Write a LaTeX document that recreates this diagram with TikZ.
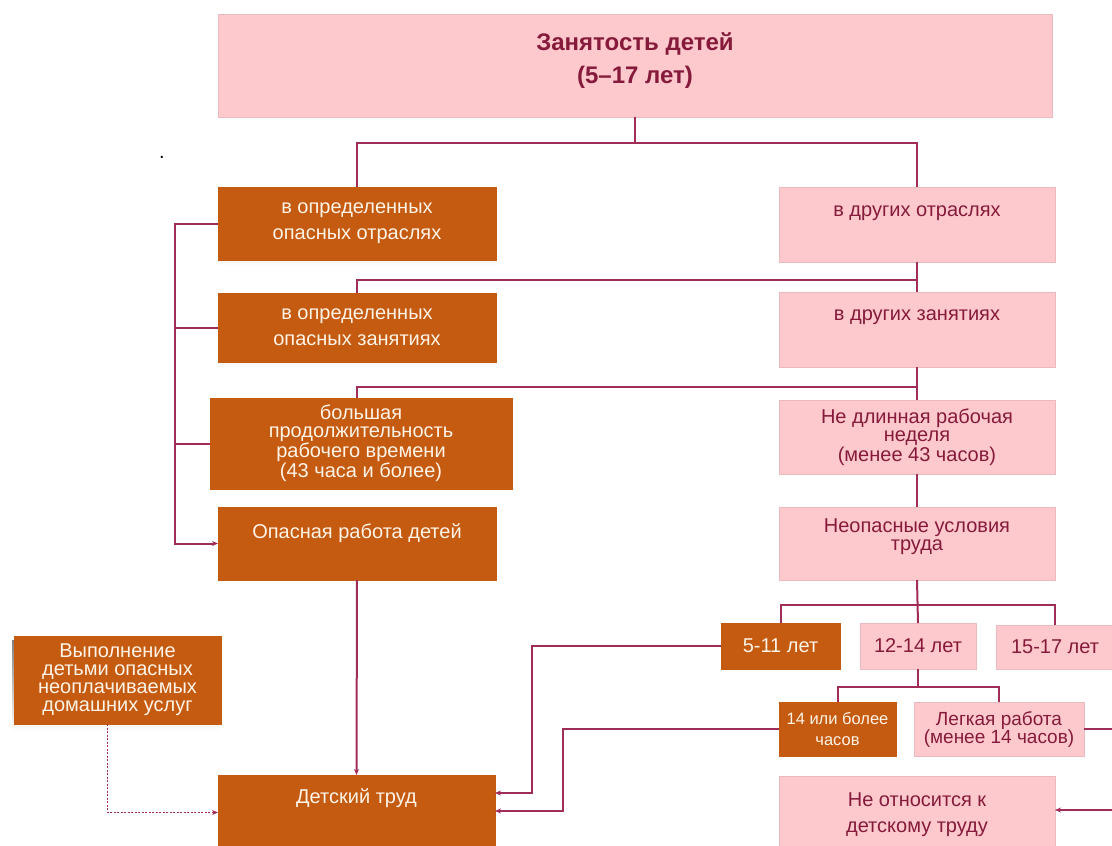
\documentclass[tikz,border=0pt]{standalone}
\usepackage{fontspec}
\setmainfont{Liberation Sans}
\usetikzlibrary{arrows.meta}

\definecolor{orng}{RGB}{197,90,17}
\definecolor{blush}{RGB}{253,201,205}
\definecolor{blushedge}{RGB}{234,186,191}
\definecolor{wine}{RGB}{134,26,58}
\definecolor{cream}{RGB}{255,244,230}
\definecolor{linkc}{RGB}{160,44,88}
\definecolor{shade}{RGB}{204,122,122}

\newcommand{\lowgap}[1]{\rule[-#1]{0pt}{#1}}

\tikzset{
  hazbox/.style={fill=orng, draw=orng, text=cream, anchor=north west, inner sep=0pt, outer sep=0pt, align=center, font=\fontsize{20}{26}\selectfont},
  safebox/.style={fill=blush, draw=blushedge, line width=0.8pt, text=wine, anchor=north west, inner sep=0pt, outer sep=0pt, align=center, font=\fontsize{20}{26}\selectfont},
  tight/.style={font=\fontsize{20}{18}\selectfont},
  link/.style={draw=linkc, line width=2pt},
  flow/.style={link, -{Stealth[length=6pt,width=5pt]}},
}

\begin{document}
\begin{tikzpicture}[x=1pt,y=1pt,yscale=-1,xscale=1]
\useasboundingbox (0,0) rectangle (1112,846);
\clip (0,0) rectangle (1112,846);

% Text Node
\node[font=\fontsize{20}{24}\selectfont] (mark) at (162,157) {.};

%Shape: shadows under the hazard boxes
\fill[shade] (218,191) rectangle (496,266);
\fill[shade] (218,297) rectangle (496,368);
\fill[shade] (12,640) rectangle (219,731);

%Shape: top box
\node[safebox, font=\bfseries\fontsize{24}{33}\selectfont, minimum width=834pt, minimum height=103pt] (emp) at (218,14) {Занятость детей\\(5–17 лет)\lowgap{14pt}};

%Shape: left column
\node[hazbox, minimum width=278pt, minimum height=73pt] (ind) at (218,187) {в определенных\\опасных отраслях};
\node[hazbox, minimum width=278pt, minimum height=69pt] (occ) at (218,293) {в определенных\\опасных занятиях};
\node[hazbox, tight, minimum width=302pt, minimum height=91pt] (hrs) at (210,398) {большая\\продолжительность\\рабочего времени\\(43 часа и более)};
\node[hazbox, minimum width=278pt, minimum height=73pt] (hzw) at (218,507) {Опасная работа детей\lowgap{25pt}};
\node[hazbox, tight, minimum width=207pt, minimum height=88pt] (dom) at (14,636) {Выполнение\\детьми опасных\\неоплачиваемых\\домашних услуг};
\node[hazbox, minimum width=277pt, minimum height=75pt] (cl) at (218,775) {Детский труд\lowgap{33pt}};

%Shape: right column
\node[safebox, minimum width=276pt, minimum height=75pt] (oind) at (779,187) {в других отраслях\lowgap{26pt}};
\node[safebox, minimum width=276pt, minimum height=75pt] (oocc) at (779,292) {в других занятиях\lowgap{28pt}};
\node[safebox, tight, minimum width=276pt, minimum height=74pt] (ohrs) at (779,400) {Не длинная рабочая\\неделя\\(менее 43 часов)};
\node[safebox, tight, minimum width=276pt, minimum height=73pt] (ocond) at (779,507) {Неопасные условия\\труда\lowgap{18pt}};

%Shape: age groups
\node[hazbox, minimum width=119pt, minimum height=46pt] (ya) at (721,623) {5-11 лет};
\node[safebox, minimum width=116pt, minimum height=46pt] (yb) at (860,623) {12-14 лет};
\node[safebox, minimum width=118pt, minimum height=44pt] (yc) at (996,625) {15-17 лет};
\node[hazbox, font=\fontsize{16.5}{21}\selectfont, minimum width=117pt, minimum height=54pt] (long) at (779,702) {14 или более\\часов};
\node[safebox, font=\fontsize{19}{18}\selectfont, minimum width=170pt, minimum height=54pt] (light) at (914,702) {Легкая работа\\(менее 14 часов)};
\node[safebox, minimum width=276pt, minimum height=78pt] (notcl) at (779,776) {Не относится к\\детскому труду};

% junctions
\coordinate (j1) at (635,143);
\coordinate (j2) at (917,280);
\coordinate (j3) at (917,387);
\coordinate (j4) at (917,605);
\coordinate (j5) at (918,687);
\coordinate (spine) at (175,0);
\coordinate (b1) at (532,793);
\coordinate (b2) at (563,811);
\coordinate (rin) at (1130,810);

%Straight Lines
\draw[link] (emp.south) -- (j1);
\draw[link] (ind.north) |- (j1) -| (oind.north);
\draw[link] (oind.south) -- (oocc.north);
\draw[link] (occ.north) |- (j2);
\draw[link] (oocc.south) -- (ohrs.north);
\draw[link] (ind.north |- hrs.north) |- (j3);
\draw[link] (ohrs.south) -- (ocond.north);
%Straight Lines: left bracket
\draw[flow] (ind.west) -| (spine |- hzw.west) -- (hzw.west);
\draw[link] (occ.west) -- (occ.west -| spine);
\draw[link] (hrs.west) -- (hrs.west -| spine);
\draw[flow] (hzw.south) -- (cl.north);
\draw[flow, dash pattern=on 2pt off 1.5pt, line width=1.5pt] ([xshift=-10pt]dom.south) |- (cl.west);
%Straight Lines: ages
\draw[link] (ocond.south) -- (yb.north);
\draw[link] (ya.north) |- (j4) -| (yc.north);
\draw[link] (yb.south) -- (j5);
\draw[link] (long.north) |- (j5) -| (light.north);
\draw[flow] (ya.west) -| (b1) -- (b1 -| cl.east);
\draw[flow] (long.west) -| (b2) -- (b2 -| cl.east);
\draw[link] (light.east) -- ++(40,0);
\draw[flow] (rin) -- (rin -| notcl.east);
\end{tikzpicture}
\end{document}
